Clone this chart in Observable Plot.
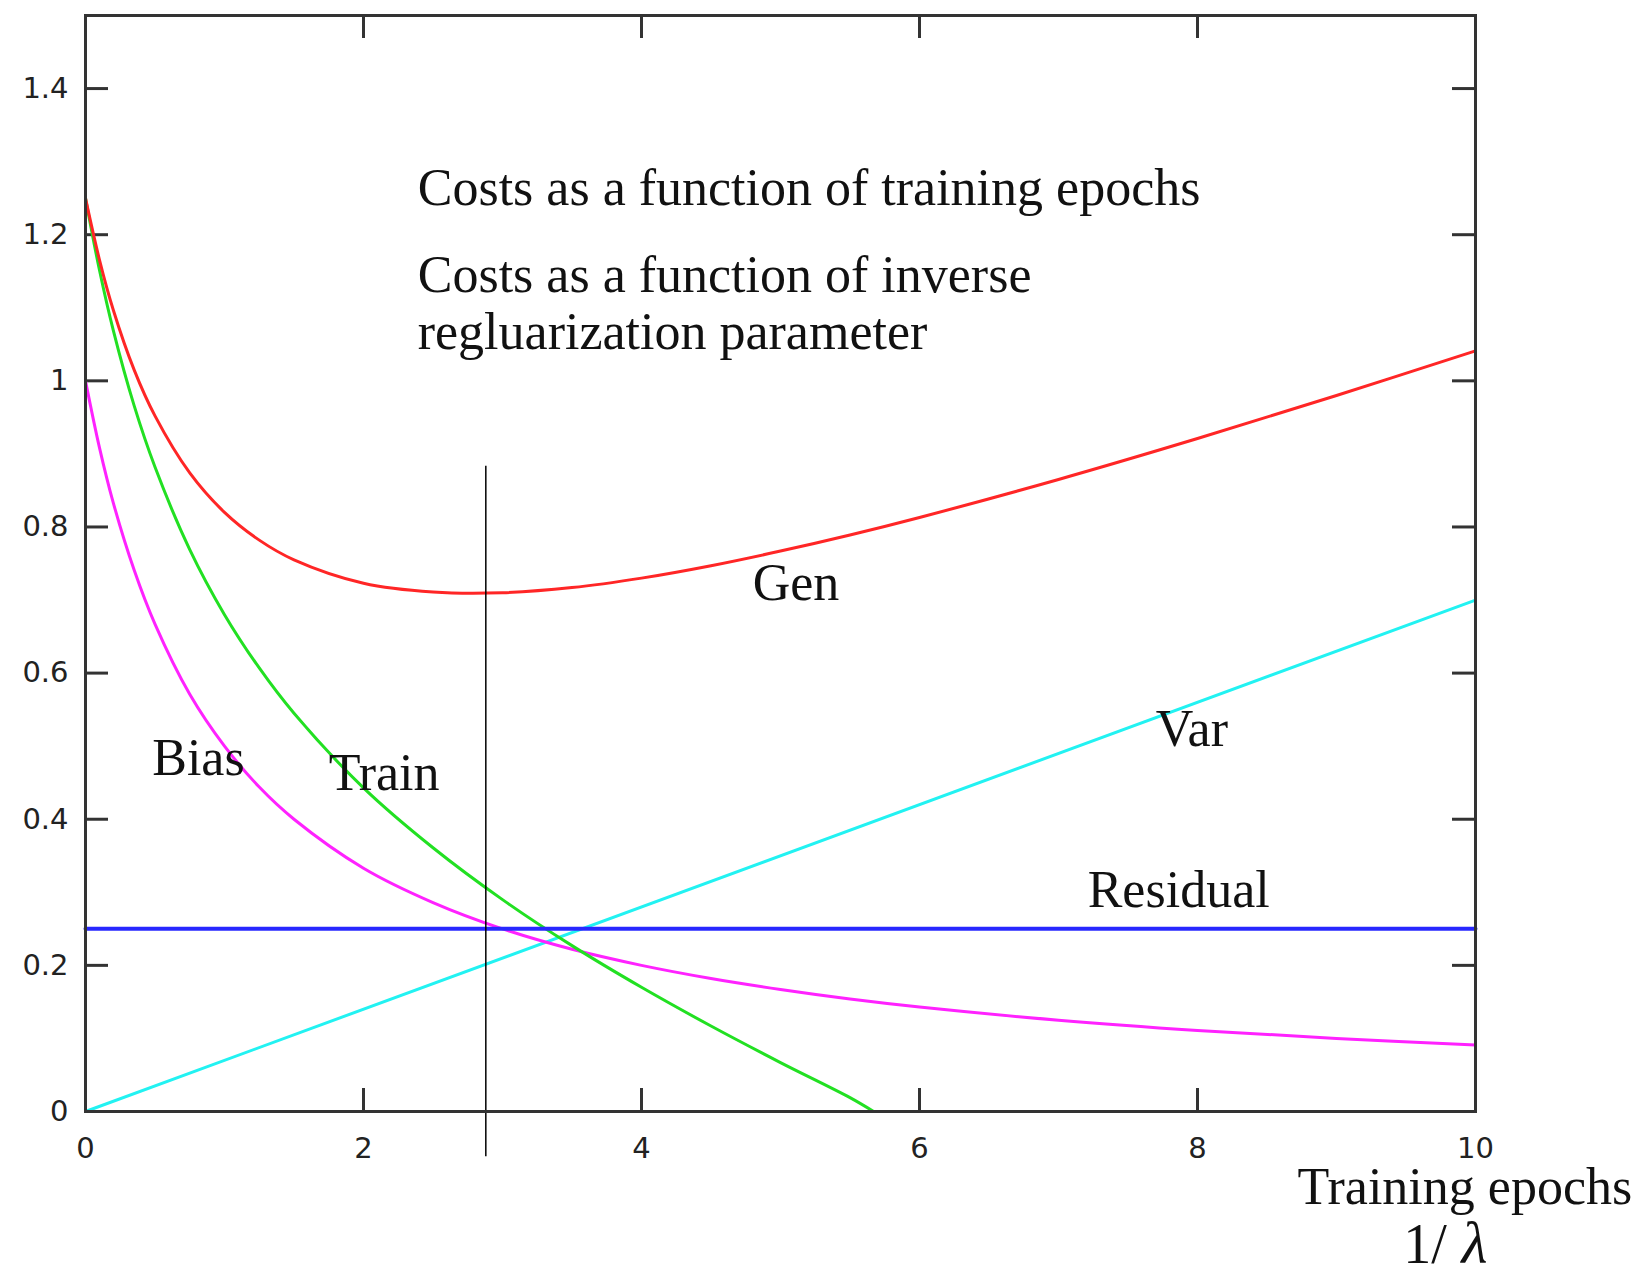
<!DOCTYPE html>
<html>
<head>
<meta charset="utf-8">
<script src="https://cdn.jsdelivr.net/npm/d3@7"></script>
<script src="https://cdn.jsdelivr.net/npm/@observablehq/plot@0.6"></script>
<style>
  html, body { margin: 0; padding: 0; background: #fff; }
  #chart svg { display: block; }
</style>
</head>
<body>
<div id="chart"></div>
<script>
// Sample positions along the horizontal axis (training epochs / 1/lambda)
const xs = [0, 0.1, 0.2, 0.35, 0.5, 0.75, 1, 1.25, 1.5, 2, 2.5, 3, 3.5, 4, 4.5, 5, 5.5, 6, 7, 8, 9, 10];

// Gen (red)
const genValues = [1.25, 1.166, 1.097, 1.015, 0.952, 0.874, 0.82, 0.782, 0.755, 0.723, 0.711, 0.71, 0.717, 0.73, 0.747, 0.767, 0.789, 0.813, 0.865, 0.921, 0.98, 1.041];

// Bias (magenta)
const biasValues = [1.0, 0.909, 0.833, 0.741, 0.667, 0.571, 0.5, 0.444, 0.4, 0.333, 0.286, 0.25, 0.222, 0.2, 0.182, 0.167, 0.154, 0.143, 0.125, 0.111, 0.1, 0.091];

// Train (green) ends where it reaches 0
const trainX = [0, 0.1, 0.2, 0.35, 0.5, 0.75, 1, 1.25, 1.5, 2, 2.5, 3, 3.5, 4, 4.5, 5, 5.5, 5.67];
const trainValues = [1.25, 1.152, 1.069, 0.966, 0.882, 0.769, 0.68, 0.607, 0.545, 0.443, 0.361, 0.29, 0.227, 0.17, 0.117, 0.067, 0.019, 0.0];

// Var (cyan) and Residual (blue) are straight lines
const varX = [0, 10];
const varValues = [0, 0.70];
const residualX = [0, 10];
const residualValues = [0.25, 0.25];

// Vertical marker (early stopping point)
const markerX = [2.88];
const markerTop = [0.883];
const markerBottom = [-0.062];

// Ticks
const xTicks = [0, 2, 4, 6, 8, 10];
const xInnerTicks = [2, 4, 6, 8];
const yTicks = [0, 0.2, 0.4, 0.6, 0.8, 1, 1.2, 1.4];
const yInnerTicks = [0.2, 0.4, 0.6, 0.8, 1, 1.2, 1.4];

// Text annotations (position in data units, baseline-anchored)
const labelText = ["Gen", "Var", "Bias", "Train", "Residual",
  "Costs as a function of training epochs",
  "Costs as a function of inverse",
  "regluarization parameter",
  "Training epochs"];
const labelX = [4.80, 7.70, 0.48, 1.75, 7.21, 2.39, 2.39, 2.39, 8.72];
const labelY = [0.70, 0.50, 0.46, 0.44, 0.28, 1.241, 1.122, 1.043, -0.126];
const invText = ["1/"];
const invX = [9.48];
const invY = [-0.208];
const lambdaText = ["λ"];
const lambdaX = [9.90];
const lambdaY = [-0.208];

const toRows = (xArr, yArr) => xArr.map((x, i) => ({x, y: yArr[i]}));
const labels = labelText.map((t, i) => ({t, x: labelX[i], y: labelY[i]}));
const invLabel = invText.map((t, i) => ({t, x: invX[i], y: invY[i]}));
const lambdaLabel = lambdaText.map((t, i) => ({t, x: lambdaX[i], y: lambdaY[i]}));

const W = 1643, H = 1279;
const mL = 85, mR = 168, mT = 15, mB = 168;
const plotW = W - mL - mR, plotH = H - mT - mB;
const tickLen = 23;
const axisColor = "#333";
const serif = "'Liberation Serif', 'Times New Roman', serif";
const sans = "'DejaVu Sans', Verdana, sans-serif";
const fmt = d => String(+d.toFixed(1));

const chart = Plot.plot({
  width: W,
  height: H,
  marginLeft: mL,
  marginRight: mR,
  marginTop: mT,
  marginBottom: mB,
  x: {domain: [0, 10]},
  y: {domain: [0, 1.5]},
  style: {background: "#fff"},
  marks: [
    Plot.axisX({ticks: xTicks, tickSize: 0, tickPadding: 26, tickFormat: fmt, fontSize: 29, fontFamily: sans, fill: "#222", label: null, letterSpacing: "1px"}),
    Plot.axisY({ticks: yTicks, tickSize: 0, tickPadding: 17, tickFormat: fmt, fontSize: 29, fontFamily: sans, fill: "#222", label: null, letterSpacing: "1px"}),
    // inward ticks on all four sides
    Plot.tickY(yInnerTicks, {y: d => d, insetRight: plotW - tickLen, stroke: axisColor, strokeWidth: 3}),
    Plot.tickY(yInnerTicks, {y: d => d, insetLeft: plotW - tickLen, stroke: axisColor, strokeWidth: 3}),
    Plot.tickX(xInnerTicks, {x: d => d, insetTop: plotH - tickLen, stroke: axisColor, strokeWidth: 3}),
    Plot.tickX(xInnerTicks, {x: d => d, insetBottom: plotH - tickLen, stroke: axisColor, strokeWidth: 3}),
    // curves
    Plot.line(toRows(varX, varValues), {x: "x", y: "y", stroke: "#22f2f2", strokeWidth: 3}),
    Plot.line(toRows(xs, biasValues), {x: "x", y: "y", stroke: "#ff22ff", strokeWidth: 3, curve: "catmull-rom"}),
    Plot.line(toRows(trainX, trainValues), {x: "x", y: "y", stroke: "#22e022", strokeWidth: 3, curve: "catmull-rom"}),
    Plot.line(toRows(residualX, residualValues), {x: "x", y: "y", stroke: "#2828ff", strokeWidth: 4}),
    Plot.line(toRows(xs, genValues), {x: "x", y: "y", stroke: "#ff2626", strokeWidth: 3, curve: "catmull-rom"}),
    // vertical marker
    Plot.ruleX(markerX.map((x, i) => ({x, y1: markerTop[i], y2: markerBottom[i]})), {x: "x", y1: "y1", y2: "y2", stroke: "#000", strokeWidth: 1.5}),
    // frame
    Plot.frame({stroke: axisColor, strokeWidth: 3}),
    // annotations
    Plot.text(labels, {x: "x", y: "y", text: "t", textAnchor: "start", lineAnchor: "bottom", fontSize: 52, fontFamily: serif, fill: "#111"}),
    Plot.text(invLabel, {x: "x", y: "y", text: "t", textAnchor: "start", lineAnchor: "bottom", fontSize: 56, fontFamily: serif, fill: "#111"}),
    Plot.text(lambdaLabel, {x: "x", y: "y", text: "t", textAnchor: "start", lineAnchor: "bottom", fontSize: 60, fontFamily: serif, fontStyle: "italic", fill: "#111"})
  ]
});
document.getElementById("chart").appendChild(chart);
</script>
</body>
</html>
